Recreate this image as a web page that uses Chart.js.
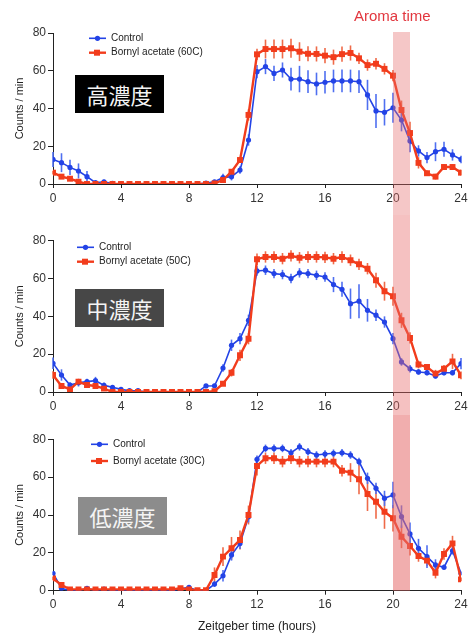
<!DOCTYPE html>
<html>
<head>
<meta charset="utf-8">
<script src="https://cdn.jsdelivr.net/npm/chart.js@4.4.1/dist/chart.umd.min.js"></script>
<style>
body { margin: 0; background: #fff; }
#wrap { position: relative; width: 468px; height: 634px; overflow: hidden; background: #fff; font-family: "Liberation Sans", Arial, sans-serif; }
#wrap canvas { position: absolute; left: 0; }
.tag { position: absolute; width: 89px; height: 38px; line-height: 38px; text-align: center; color: #f4f4f4; font-family: "Noto Sans CJK JP", sans-serif; font-size: 22px; }
#aroma { position: absolute; left: 354px; top: 7px; color: #e2363e; font-size: 15px; }
</style>
</head>
<body>
<div id="wrap">
  <canvas id="cHigh" width="468" height="215" style="top:0px"></canvas>
  <canvas id="cMid" width="468" height="215" style="top:200px"></canvas>
  <canvas id="cLow" width="468" height="224" style="top:410px"></canvas>
  <div class="tag" style="left:75px;top:75px;background:#000">高濃度</div>
  <div class="tag" style="left:75px;top:289px;background:#474747">中濃度</div>
  <div class="tag" style="left:78px;top:497px;background:#8c8c8c">低濃度</div>
  <div id="aroma">Aroma time</div>
</div>
<script>
/* Locomotor activity, control vs bornyl acetate at three doses */
const HOURS = [0,0.5,1,1.5,2,2.5,3,3.5,4,4.5,5,5.5,6,6.5,7,7.5,8,8.5,9,9.5,10,10.5,11,11.5,
  12,12.5,13,13.5,14,14.5,15,15.5,16,16.5,17,17.5,18,18.5,19,19.5,20,20.5,21,21.5,22,22.5,23,23.5,24];
const X_TICKS = [0, 4, 8, 12, 16, 20, 24];
const Y_TICKS = [0, 20, 40, 60, 80];
const AROMA_WINDOW = [20, 21];

// high dose (60C)
const HI_CTRL = [13,11.3,8.8,6.9,3.9,0.7,1.2,0.3,0,0,0,0,0,0,0,0,0,0,0.5,1.2,3.4,3.9,7.4,23.3,
  59.5,62.2,58.6,60.4,55.6,55.6,54.2,53,53.9,54.6,54.6,54.6,54.2,47.2,38.7,38,40.4,33.9,22.8,17.5,14,17.1,18.4,15.4,13];
const HI_CTRL_SEM = [4,5,4,4,3,1,1,0.5,0,0,0,0,0,0,0,0,0,0,0.5,1,2,2,2,3,
  3.5,4,4,4,6,7,6,6,6,6,6,6,6,8,9,7,8,6,6,3,3,5,4,3,2];
const HI_BA = [6,3.9,2.8,1.2,0,0,0,0,0,0,0,0,0,0,0,0,0,0,0,0.3,2.1,6.5,12.7,36.6,
  68.7,71.5,71.5,71.5,71.9,70.1,69,68.9,68,67.2,68.8,69.4,66.6,63,63.7,61,57.4,39.2,27,11.2,5.7,3.9,9,9,6];
const HI_BA_SEM = [1,1,1,0.5,0,0,0,0,0,0,0,0,0,0,0,0,0,0,0,0.5,1,1,1.5,3,
  3,5,5,5,5,5,4,4,4,4,4,4,3,3,3,3,3,5,6,3,1.5,1.5,1.5,1.5,1.5];

// middle dose (50C)
const MID_CTRL = [15.2,9,3.7,4.9,5.5,6,3.5,2.5,1.4,0.7,0.7,0,0,0,0,0,0,0,3.2,3.3,12.7,24.7,28.2,37.9,
  64,64.4,62.6,62.1,60,63,62.6,61.7,60.8,56.8,54.3,46.7,48,43.2,40.6,37,28.2,15.9,12.3,10.6,10.2,8.5,10.2,10.2,15];
const MID_CTRL_SEM = [3,3,1.5,2,1.5,2,1.5,1,0.5,0.5,0.5,0,0,0,0,0,0,0,1,1,2,3,3,3,
  2.5,2.5,2.5,2.5,2.5,2.5,2.5,2.5,2.5,4,4,8,9,6,3,3,3,2,2,1.5,1.5,1.5,1.5,1.5,3];
const MID_BA = [9,3.2,1.4,5.5,3.7,3.2,1.8,0,0,0,0,0,0,0,0,0,0,0,0,0.4,4.4,10.2,19.4,28.2,
  70.2,71.4,71.4,70.5,72,71,71.4,71.4,71.2,70.5,71.4,69.7,67.5,65.2,59.1,53.3,50.6,37.9,28.6,14.5,13.2,9.7,12.3,16.2,8.8];
const MID_BA_SEM = [2,1,1,1.5,1,1,1,0,0,0,0,0,0,0,0,0,0,0,0,0.5,1,2,3,3,
  3,3,3,3,3,3,3,3,3,3,3,3,3,3,4,5,5,4,3,2,1,2,2,4,2];

// low dose (30C)
const LO_CTRL = [9.2,1.3,0,0,1.3,0,0.9,0,0,0,0,0,0,0,0,1,1.8,0,0,3.5,7.9,18.9,25,39.1,
  69.4,75.2,75.2,75.2,72.9,76,73.4,71.7,72.2,72.6,72.9,71.7,68.2,59.4,54.1,48.8,50.6,39.1,30,22.4,18,13.6,12.4,21.1,9.2];
const LO_CTRL_SEM = [1,0.5,0,0,0.5,0,0.5,0,0,0,0,0,0,0,0,0.5,0.5,0,0,1.5,3,3,3,3,
  2,2,2,2,2,2,2,2,2,2,2,2,2,3,3,4,7,6,6,5,6,3,1.5,2,1];
const LO_BA = [6.5,3,0.7,0.7,0.7,0.7,0.7,0.7,0.7,0.7,0.7,0.7,0.7,0.7,0.7,1.3,0.7,0.3,0.3,8.3,18,22.4,26.8,40,
  65.9,70,70,68.2,70,68.2,68.2,68.2,68.2,68.2,63.4,62.4,58.9,51.1,47,41.7,38.3,28.5,23.6,18.3,15.9,9.5,19.4,25,6];
const LO_BA_SEM = [1,1,0.5,0.5,0.5,0.5,0.5,0.5,0.5,0.5,0.5,0.5,0.5,0.5,0.5,0.5,0.5,0.3,0.3,4,5,6,5,5,
  5,3,3,3,3,3,3,3,3,3,3,5,8,9,9,9,7,6,5,3,3,3,3,4,1];

const BLUE = '#2343e6', BLUE_ERR = '#4f6ff0';
const RED = '#f23c1c', RED_ERR = '#ef6a48';
const AXIS = '#222';

function points(vals) {
  return HOURS.map((h, i) => ({ x: h, y: vals[i] }));
}

// vertical SEM bars under the lines
Chart.register({
  id: 'errorBars',
  beforeDatasetsDraw(chart) {
    const { ctx, scales: { x, y } } = chart;
    ctx.save();
    chart.data.datasets.forEach((ds) => {
      ctx.strokeStyle = ds.errColor;
      ctx.lineWidth = 1.6;
      ds.data.forEach((p, i) => {
        const e = ds.errors[i];
        if (!e) return;
        const px = x.getPixelForValue(p.x);
        ctx.beginPath();
        ctx.moveTo(px, y.getPixelForValue(Math.max(0, p.y - e)));
        ctx.lineTo(px, y.getPixelForValue(p.y + e));
        ctx.stroke();
      });
    });
    ctx.restore();
  }
});

// translucent aroma window drawn over the data
Chart.register({
  id: 'aromaBand',
  afterDatasetsDraw(chart, args, opts) {
    const { ctx, chartArea, scales: { x } } = chart;
    const x0 = x.getPixelForValue(AROMA_WINDOW[0]);
    const x1 = x.getPixelForValue(AROMA_WINDOW[1]);
    const top = opts.top;
    const bottom = opts.bottom == null ? chartArea.bottom : opts.bottom;
    ctx.save();
    ctx.fillStyle = `rgba(230,108,108,${opts.alpha})`;
    ctx.fillRect(x0, top, x1 - x0, bottom - top);
    ctx.restore();
  }
});

// small line+marker legend inside the plot
Chart.register({
  id: 'miniLegend',
  afterDraw(chart, args, opts) {
    const { ctx, chartArea } = chart;
    ctx.save();
    ctx.font = '10px "Liberation Sans", Arial, sans-serif';
    ctx.textBaseline = 'middle';
    opts.items.forEach((it, k) => {
      const yy = chartArea.top + opts.rows[k];
      const x0 = opts.x;
      ctx.strokeStyle = it.color;
      ctx.lineWidth = it.width;
      ctx.beginPath();
      ctx.moveTo(x0, yy);
      ctx.lineTo(x0 + 17, yy);
      ctx.stroke();
      ctx.fillStyle = it.color;
      if (it.square) ctx.fillRect(x0 + 5, yy - 3, 6, 6);
      else { ctx.beginPath(); ctx.arc(x0 + 8.5, yy, 2.6, 0, Math.PI * 2); ctx.fill(); }
      ctx.fillStyle = '#222';
      ctx.fillText(it.label, x0 + 22, yy);
    });
    ctx.restore();
  }
});

function makePanel(id, ctrl, ctrlSem, ba, baSem, p) {
  const tickFont = { family: '"Liberation Sans", Arial, sans-serif', size: 12 };
  new Chart(document.getElementById(id), {
    type: 'line',
    data: {
      datasets: [
        { label: p.baLabel, data: points(ba), errors: baSem, errColor: RED_ERR, borderColor: RED, backgroundColor: RED,
          borderWidth: 2.4, pointStyle: 'rect', pointRadius: 4.2, pointBorderWidth: 0, order: 0 },
        { label: 'Control', data: points(ctrl), errors: ctrlSem, errColor: BLUE_ERR, borderColor: BLUE, backgroundColor: BLUE,
          borderWidth: 1.6, pointStyle: 'circle', pointRadius: 2.6, pointBorderWidth: 0, order: 1 }
      ]
    },
    options: {
      responsive: false,
      animation: false,
      layout: { padding: { left: 0, right: 7, top: p.padTop, bottom: 0 } },
      plugins: {
        legend: { display: false },
        tooltip: { enabled: false },
        aromaBand: { top: p.bandTop, bottom: p.bandBottom, alpha: p.bandAlpha },
        miniLegend: { x: p.legX, rows: p.legRows, items: [
          { label: 'Control', color: BLUE, width: 1.6, square: false },
          { label: p.baLabel, color: RED, width: 2.4, square: true }
        ] }
      },
      scales: {
        x: {
          type: 'linear', min: 0, max: 24,
          afterBuildTicks: s => { s.ticks = X_TICKS.map(v => ({ value: v })); },
          afterFit: s => { s.height = p.xHeight; s.paddingLeft = 0; s.paddingRight = 0; },
          ticks: { font: tickFont, color: '#333', padding: 3, maxRotation: 0 },
          grid: { drawOnChartArea: false, tickLength: 4, color: AXIS },
          border: { color: AXIS, width: 1 },
          title: { display: !!p.xTitle, text: p.xTitle || '', color: '#222',
            font: { family: '"Liberation Sans", Arial, sans-serif', size: 12 }, padding: { top: 0, bottom: 0 } }
        },
        y: {
          min: 0, max: 80,
          afterBuildTicks: s => { s.ticks = Y_TICKS.map(v => ({ value: v })); },
          afterFit: s => { s.width = 53; s.paddingTop = 0; s.paddingBottom = 0; },
          ticks: { font: tickFont, color: '#333', padding: 2 },
          grid: { drawOnChartArea: false, tickLength: 5, color: AXIS },
          border: { color: AXIS, width: 1 },
          title: { display: true, text: 'Counts / min', color: '#222',
            font: { family: '"Liberation Sans", Arial, sans-serif', size: 11 }, padding: { top: 13, bottom: 0 } }
        }
      }
    }
  });
}

makePanel('cHigh', HI_CTRL, HI_CTRL_SEM, HI_BA, HI_BA_SEM, {
  baLabel: 'Bornyl acetate (60C)', padTop: 33, xHeight: 31,
  bandTop: 32, bandBottom: 215, bandAlpha: 0.38, legX: 89, legRows: [5.3, 19.7]
});
makePanel('cMid', MID_CTRL, MID_CTRL_SEM, MID_BA, MID_BA_SEM, {
  baLabel: 'Bornyl acetate (50C)', padTop: 40.7, xHeight: 23,
  bandTop: 15, bandBottom: 215, bandAlpha: 0.42, legX: 77, legRows: [6.6, 21]
});
makePanel('cLow', LO_CTRL, LO_CTRL_SEM, LO_BA, LO_BA_SEM, {
  baLabel: 'Bornyl acetate (30C)', padTop: 29.3, xHeight: 43.3, xTitle: 'Zeitgeber time (hours)',
  bandTop: 5, bandBottom: null, bandAlpha: 0.55, legX: 91, legRows: [5, 21.7]
});
</script>
</body>
</html>
